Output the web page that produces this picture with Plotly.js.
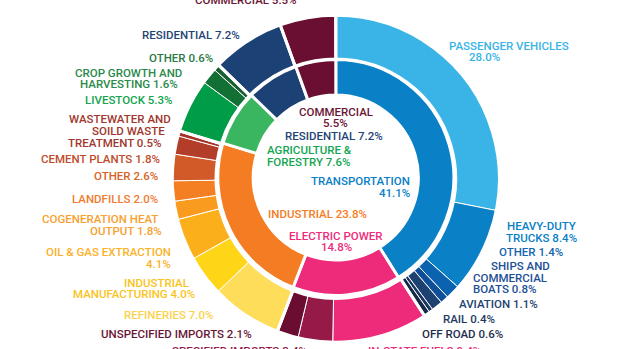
<!DOCTYPE html>
<html><head><meta charset="utf-8">
<script src="https://cdn.plot.ly/plotly-3.0.1.min.js"></script>
<style>html,body{margin:0;padding:0;background:#fff;overflow:hidden}#chart{width:620px;height:349px}</style>
</head><body><div id="chart"></div>
<script>
// ---- data ----
const sectorNames = ['Transportation\n', 'Electric Power\n', 'Industrial', 'Agriculture &\nForestry', 'Residential', 'Commercial\n'];
const sectorValues = [41.1, 14.8, 23.8, 7.6, 7.2, 5.5];

const subNames = [
  'Passenger Vehicles\n', 'Heavy-Duty\nTrucks', 'Other', 'Ships and\nCommercial\nBoats', 'Aviation', 'Rail', 'Off Road',
  'In-State Fuels', 'Specified Imports', 'Unspecified Imports',
  'Refineries', 'Industrial\nManufacturing', 'Oil & Gas Extraction\n', 'Cogeneration Heat\nOutput', 'Landfills', 'Other', 'Cement Plants', 'Wastewater and\nSoild Waste\nTreatment',
  'Livestock', 'Crop Growth and\nHarvesting', 'Other',
  'Residential', 'Commercial'
];
const subValues = [28.0, 8.4, 1.4, 0.8, 1.1, 0.4, 0.6,
  9.4, 3.4, 2.1,
  7.0, 4.0, 4.1, 1.8, 2.0, 2.6, 1.8, 0.5,
  5.3, 1.6, 0.6,
  7.2, 5.5];
const subParent = [0, 0, 0, 0, 0, 0, 0, 1, 1, 1, 2, 2, 2, 2, 2, 2, 2, 2, 3, 3, 3, 4, 5];

// ---- styles ----
const sectorColors = ['#0A80C6', '#EE2B7B', '#F47C22', '#3AB660', '#1C4275', '#6A0F31'];
const sectorText = ['#0A80C6', '#EE2B7B', '#F47C22', '#14A550', '#1F4476', '#6B1535'];
const subColors = ['#3AB4E6', '#0A80C6', '#0B62AE', '#0E4F98', '#1D4170', '#193662', '#142A4B',
  '#EE2B7B', '#961A48', '#6A0D31',
  '#FDDD5A', '#FFD518', '#FBAF1A', '#F89B1E', '#F47F22', '#D25A28', '#B23D28', '#A3332A',
  '#009C48', '#137034', '#1B5E33',
  '#1C4275', '#6A0F31'];
const subText = ['#3AB4E6', '#0A80C6', '#1366AE', '#1D4F96', '#1E4270', '#1E3A63', '#1E2E4E',
  '#EE2A7B', '#951B4A', '#6B1535',
  '#F9D34E', '#F9C420', '#F9B22A', '#F7A030', '#F07C30', '#D66428', '#C04B2D', '#A0372D',
  '#14A550', '#2A8A4A', '#2A7A45',
  '#1F4476', '#6B1535'];

// label placement (pixels): x, y of first line centre, anchor, per-line dx
const subPos = [
  [449, 45.7, 'left', [0, 20]], [541, 226, 'center'], [499, 252.3, 'left'], [473, 266, 'left', [18, 0, 0]],
  [459, 304, 'left'], [443, 319, 'left'], [422, 334.3, 'left'],
  [368, 351, 'left'], [172, 351, 'left'], [252, 334, 'right'],
  [214, 315, 'right'], [195, 282.7, 'right', [-6, 0]], [171, 252.3, 'right'], [160, 219, 'right', [-2, 2]],
  [158, 199, 'right'], [158, 176, 'right'], [160, 159.3, 'right'], [120, 119.3, 'center', [0, 8, -5]],
  [173, 100, 'right'], [128.5, 72.7, 'center'], [213, 57.7, 'right'],
  [240, 35, 'right'], [297, 0.5, 'right']
];
const sectorPos = [
  [410, 181, 'right'], [336, 235.7, 'center'], [268, 214, 'left'], [267, 150, 'left'], [285, 135.7, 'left'], [335.5, 111.7, 'center']
];

const W = 620, H = 349, LINE = 11.7;
function dom(cx, cy, r) { return { x: [(cx - r) / W, (cx + r) / W], y: [1 - (cy + r) / H, 1 - (cy - r) / H] }; }

const groupTotals = sectorValues.map((_, i) => subValues.reduce((s, v, j) => s + (subParent[j] === i ? v : 0), 0));

const outerDom = dom(335.8, 178.7, 163.5);
const innerDom = dom(335.8, 177.5, 118);
const common = { type: 'pie', sort: false, direction: 'clockwise', rotation: 0, textinfo: 'none', hoverinfo: 'none', showlegend: false };

const traces = [
  Object.assign({}, common, {
    labels: sectorNames.map((n, i) => 's' + i), values: sectorValues, domain: innerDom, hole: 82.5 / 118,
    marker: { colors: sectorColors, line: { color: '#fff', width: 3 } }
  }),
  Object.assign({}, common, {
    labels: subNames.map((n, i) => 'o' + i), values: subValues, domain: outerDom, hole: 119.8 / 163.5,
    marker: { colors: subColors, line: { color: '#fff', width: 1 } }
  }),
  Object.assign({}, common, {
    labels: groupTotals.map((n, i) => 'g' + i), values: groupTotals, domain: outerDom, hole: 119.8 / 163.5,
    marker: { colors: groupTotals.map(() => 'rgba(0,0,0,0)'), line: { color: '#fff', width: 3 } }
  })
];

function labelLines(name, value) {
  const v = value.toFixed(1) + '%';
  const t = name.toUpperCase();
  return (t.endsWith('\n') ? t + v : t + ' ' + v).split('\n');
}
const annotations = [];
function addLabel(name, value, pos, color) {
  const lines = labelLines(name, value);
  lines.forEach((ln, k) => {
    const dx = pos[3] ? pos[3][k] : 0;
    annotations.push({
      xref: 'paper', yref: 'paper', x: (pos[0] + dx) / W, y: 1 - (pos[1] + k * LINE) / H,
      xanchor: pos[2], yanchor: 'middle', showarrow: false, text: ln, borderpad: 0, borderwidth: 0,
      font: { family: 'Roboto, "DejaVu Sans", sans-serif', size: 11.5, weight: 500, color: color }
    });
  });
}
subNames.forEach((n, i) => addLabel(n, subValues[i], subPos[i], subText[i]));
sectorNames.forEach((n, i) => addLabel(n, sectorValues[i], sectorPos[i], sectorText[i]));

Plotly.newPlot('chart', traces, {
  width: W, height: H, margin: { l: 0, r: 0, t: 0, b: 0 },
  paper_bgcolor: '#fff', plot_bgcolor: '#fff', annotations: annotations
}, { displayModeBar: false, staticPlot: true });
</script></body></html>
